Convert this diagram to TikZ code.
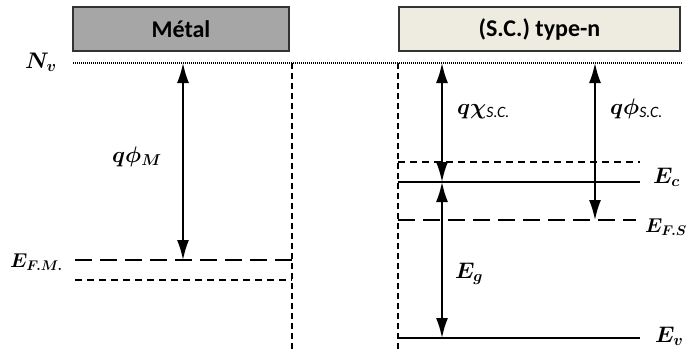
\documentclass[tikz,border=0pt]{standalone}
\usepackage{fix-cm}
\usepackage{amsmath,bm}
\usepackage{fontspec}
\setsansfont{Carlito}
\usetikzlibrary{arrows.meta}
\definecolor{scfill}{RGB}{238,236,225}
\definecolor{metfill}{RGB}{166,166,166}
\begin{document}
\begin{tikzpicture}[x=1pt,y=-1pt,
  lvl/.style={line width=2.4pt},
  longdash/.style={line width=2.4pt, dash pattern=on 17pt off 8pt},
  shortdash/.style={line width=1.8pt, dash pattern=on 7pt off 5pt},
  vdash/.style={line width=1.8pt, dash pattern=on 6pt off 4pt},
  vacuum/.style={line width=1.5pt, dash pattern=on 1pt off 1pt},
  darrow/.style={line width=1.8pt, {Latex[length=20pt,width=12pt]}-{Latex[length=20pt,width=12pt]}},
  lab/.style={font=\fontsize{22.5}{26}\selectfont, inner sep=0pt},
  smalllab/.style={font=\fontsize{20}{24}\selectfont, inner sep=0pt},
  titlebox/.style={draw=black!80, line width=1.2pt, minimum height=44pt, inner sep=0pt,
    font=\sffamily\bfseries\fontsize{24}{27}\selectfont}]
\useasboundingbox (0,0) rectangle (689,349);
% title boxes
\node[titlebox, fill=metfill, minimum width=216pt] (metal) at (181,29) {Métal};
\node[titlebox, fill=scfill, minimum width=281pt] (sc) at (539.5,29) {(S.C.) type-n};
% coordinates
\coordinate (nvL) at (73,63);   \coordinate (nvR) at (683,63);
\coordinate (mtop) at (292,63); \coordinate (mbot) at (292,349);
\coordinate (fmL) at (75,260);  \coordinate (fmR) at (292,260);
\coordinate (fm2L) at (75,280); \coordinate (fm2R) at (292,280);
\coordinate (am1) at (183,63);  \coordinate (am2) at (183,260);
\coordinate (stop) at (398,63); \coordinate (sbot) at (398,349);
\coordinate (ecdL) at (398,162); \coordinate (ecdR) at (640,162);
\coordinate (ecL) at (398,182); \coordinate (ecR) at (640,182);
\coordinate (fsL) at (398,220); \coordinate (fsR) at (636,220);
\coordinate (evL) at (398,338); \coordinate (evR) at (640,338);
\coordinate (chi1) at (442,63); \coordinate (chi2) at (442,182);
\coordinate (eg2) at (442,338);
\coordinate (ps1) at (595,63);  \coordinate (ps2) at (595,220);
% lines
\draw[vacuum] (nvL) -- (nvR);
\draw[vdash] (mtop) -- (mbot);
\draw[vdash] (stop) -- (sbot);
\draw[longdash] (fmL) -- (fmR);
\draw[shortdash] (fm2L) -- (fm2R);
\draw[shortdash] (ecdL) -- (ecdR);
\draw[lvl] (ecL) -- (ecR);
\draw[longdash] (fsL) -- (fsR);
\draw[lvl] (evL) -- (evR);
% arrows
\draw[darrow] (am1) -- (am2);
\draw[darrow] (chi1) -- (chi2);
\draw[darrow] (chi2) -- (eg2);
\draw[darrow] (ps1) -- (ps2);
% labels
\node[lab, anchor=base west] (Nv) at (25,68) {$\boldsymbol{N_v}$};
\node[smalllab, anchor=base west] (Efm) at (10,267) {$\boldsymbol{E_{F.M.}}$};
\node[lab, anchor=base west] (phiM) at (112,162) {$\boldsymbol{q\phi_M}$};
\node[lab, anchor=base west] (chiSC) at (457,114) {$\boldsymbol{q\chi}_{\text{\sffamily\itshape S.C.}}$};
\node[lab, anchor=base west] (phiSC) at (610,114) {$\boldsymbol{q\phi}_{\text{\sffamily\itshape S.C.}}$};
\node[lab, anchor=base west] (Ec) at (653,183) {$\boldsymbol{E_c}$};
\node[smalllab, anchor=base west] (Efs) at (645,232) {$\boldsymbol{E_{F.S}}$};
\node[lab, anchor=base west] (Eg) at (455,278) {$\boldsymbol{E_g}$};
\node[lab, anchor=base west] (Ev) at (655,342) {$\boldsymbol{E_v}$};
\end{tikzpicture}
\end{document}
